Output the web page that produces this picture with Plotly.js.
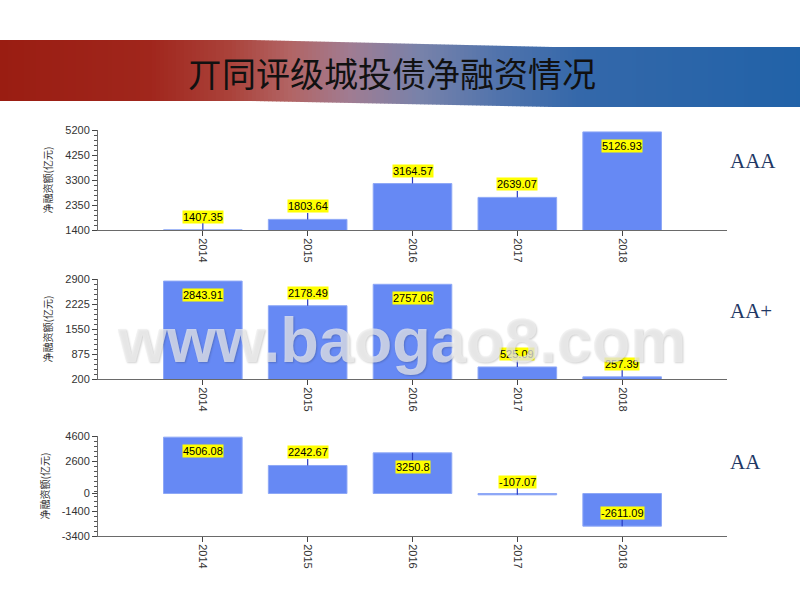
<!DOCTYPE html>
<html>
<head>
<meta charset="utf-8">
<script src="https://cdn.plot.ly/plotly-3.0.1.min.js"></script>
<style>html,body{margin:0;padding:0;background:#fff;}#chart{width:800px;height:600px;}</style>
</head>
<body>
<div id="chart"></div>
<script>
// ---- data ----
const years = ['2014', '2015', '2016', '2017', '2018'];
const aaaValues = [1407.35, 1803.64, 3164.57, 2639.07, 5126.93];
const aaPlusValues = [2843.91, 2178.49, 2757.06, 525.09, 257.39];
const aaValues = [4506.08, 2242.67, 3250.8, -107.07, -2611.09];
const ratingLabels = ['AAA', 'AA+', 'AA'];
const aaTickVals = [-3400, -1400, 0, 2600, 4600];
const chartTitle = '丌同评级城投债净融资情况';
const yTitle = '净融资额(亿元)';
const watermark = 'www.baogao8.com';

// ---- style / layout config ----
const panels = [
  {values: aaaValues, range: [1400, 5200], tick0: 1400, dtick: 950, minor: 190, dom: [130, 230], inside: [false, false, false, false, true], labelY: 161},
  {values: aaPlusValues, range: [200, 2900], tick0: 200, dtick: 675, minor: 135, dom: [279, 379], inside: [true, false, true, false, false], labelY: 311},
  {values: aaValues, range: [-3400, 4600], tickvals: aaTickVals, minor: 400, minorTick0: -3400, dom: [436, 536], inside: [true, false, true, false, false], labelY: 462}
];
const W = 800, H = 600;
const xDom = [98 / W, 727 / W];
const barColor = '#6689f4';
const arrowColor = '#2a3cc0';
const axisFont = {family: 'Liberation Sans, Arial, sans-serif', size: 11, color: '#333'};

const data = [];
const layout = {
  width: W, height: H,
  margin: {l: 0, r: 0, t: 0, b: 0},
  paper_bgcolor: '#fff', plot_bgcolor: 'rgba(0,0,0,0)',
  showlegend: false,
  bargap: 0.25,
  annotations: [],
  shapes: []
};

panels.forEach((p, i) => {
  const n = i === 0 ? '' : String(i + 1);
  data.push({
    type: 'bar', x: years, y: p.values,
    xaxis: 'x' + n, yaxis: 'y' + n,
    marker: {color: barColor, line: {color: '#8ea8f6', width: 1}},
    hoverinfo: 'skip'
  });
  layout['xaxis' + n] = {
    domain: xDom, anchor: 'y' + n, type: 'category', range: [-1, 5],
    showline: true, linecolor: '#6a6a6a', linewidth: 1,
    ticks: 'outside', ticklen: 5, tickcolor: '#444', tickangle: 90,
    tickfont: axisFont, showgrid: false, zeroline: false, fixedrange: true
  };
  const ya = {
    domain: [1 - p.dom[1] / H, 1 - p.dom[0] / H], anchor: 'x' + n,
    range: p.range, showline: true, linecolor: '#6a6a6a', linewidth: 1,
    ticks: 'outside', ticklen: 5, tickcolor: '#444', tickfont: axisFont,
    showgrid: false, zeroline: false, fixedrange: true,
    minor: {ticks: 'outside', ticklen: 3, tickcolor: '#555', dtick: p.minor, tick0: p.minorTick0 !== undefined ? p.minorTick0 : p.range[0], showgrid: false},
    title: {text: yTitle, font: {family: 'Noto Sans CJK SC, sans-serif', size: 10, color: '#333'}, standoff: 10}
  };
  if (p.tickvals) { ya.tickmode = 'array'; ya.tickvals = p.tickvals; ya.ticktext = p.tickvals.map(String); }
  else { ya.tickmode = 'linear'; ya.tick0 = p.tick0; ya.dtick = p.dtick; }
  layout['yaxis' + n] = ya;

  // value labels (category axes take the category's serial number)
  p.values.forEach((v, k) => {
    layout.annotations.push({
      xref: 'x' + n, yref: 'y' + n, x: k, y: v,
      text: String(v), showarrow: true, arrowhead: 0, arrowwidth: 1.2, arrowcolor: arrowColor,
      ax: 0, ay: p.inside[k] ? 14 : -13,
      bgcolor: '#ffff00', borderpad: 0,
      font: {family: 'Liberation Sans, Arial, sans-serif', size: 11, color: '#000'}
    });
  });

  layout.annotations.push({
    xref: 'paper', yref: 'paper', x: 728 / W, y: 1 - p.labelY / H,
    xanchor: 'left', yanchor: 'middle', showarrow: false,
    text: ratingLabels[i],
    font: {family: 'Liberation Serif, Times New Roman, serif', size: 21, color: '#1f3864'}
  });
});

// banner gradient strips
const stops = [
  [0, [154, 29, 18]], [150, [160, 38, 28]], [230, [170, 66, 58]], [290, [178, 100, 100]],
  [350, [160, 124, 146]], [420, [120, 130, 170]], [500, [80, 115, 172]], [580, [52, 104, 170]], [800, [33, 98, 168]]
];
function colAt(x) {
  for (let j = 0; j < stops.length - 1; j++) {
    const a = stops[j], b = stops[j + 1];
    if (x >= a[0] && x <= b[0]) {
      const t = (x - a[0]) / (b[0] - a[0]);
      const c = a[1].map((v, m) => Math.round(v + (b[1][m] - v) * t));
      return 'rgb(' + c.join(',') + ')';
    }
  }
  return 'rgb(33,98,168)';
}
const step = 4;
for (let x = 0; x < W; x += step) {
  const t = Math.min(1, Math.max(0, (x - 250) / 300));
  const y0 = 40 + 7 * t, y1 = 101 + 6 * t;
  layout.shapes.push({
    type: 'rect', xref: 'paper', yref: 'paper', layer: 'below',
    x0: x / W, x1: (x + step + 0.5) / W, y0: 1 - y1 / H, y1: 1 - y0 / H,
    fillcolor: colAt(x + step / 2), line: {width: 0}
  });
}

layout.annotations.push({
  xref: 'paper', yref: 'paper', x: 392 / W, y: 1 - 72 / H,
  xanchor: 'center', yanchor: 'middle', showarrow: false, text: chartTitle,
  font: {family: 'Noto Sans CJK SC, sans-serif', size: 34, color: '#111'}
});

layout.annotations.push({
  xref: 'paper', yref: 'paper', x: 401 / W, y: 1 - 340 / H,
  xanchor: 'center', yanchor: 'middle', showarrow: false, text: watermark,
  font: {family: 'Liberation Sans, Arial, sans-serif', size: 63, weight: 'bold', color: 'rgba(238,238,238,0.72)', shadow: '1px 1px 2px rgba(0,0,0,0.25)'}
});

Plotly.newPlot('chart', data, layout, {displayModeBar: false, staticPlot: true});
</script>
</body>
</html>
